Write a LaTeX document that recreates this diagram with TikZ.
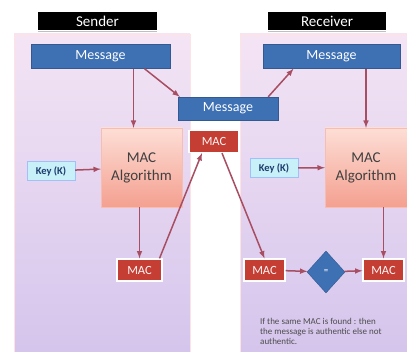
\documentclass[tikz,border=0pt]{standalone}
\usepackage{fontspec}
\setmainfont{Carlito}
\usetikzlibrary{shapes.geometric}
\definecolor{msgblue}{RGB}{62,112,180}
\definecolor{macred}{RGB}{196,62,52}
\definecolor{flowink}{RGB}{168,78,98}
\definecolor{keycyan}{RGB}{200,240,248}
\definecolor{keytext}{RGB}{30,60,110}
\definecolor{algotop}{RGB}{253,222,214}
\definecolor{algobot}{RGB}{244,160,144}
\definecolor{paneltop}{RGB}{244,228,244}
\definecolor{panelbot}{RGB}{212,196,236}

\begin{document}
\begin{tikzpicture}[x=1pt, y=-1pt,
  panel/.style={draw=pink!45!white, top color=paneltop, bottom color=panelbot},
  titlebox/.style={fill=black, text=white, font=\fontsize{15}{16}\selectfont,
    minimum height=18pt, inner sep=0pt},
  msgbox/.style={fill=msgblue, draw=msgblue!80!black, text=white,
    font=\fontsize{14}{15}\selectfont, minimum height=24pt, inner sep=0pt},
  macbox/.style={fill=macred, draw=white, line width=1.2pt, text=white!85!pink,
    font=\fontsize{12.5}{13}\selectfont, minimum height=22pt, inner sep=0pt},
  algobox/.style={top color=algotop, bottom color=algobot, draw=algobot!70!white,
    align=center, font=\fontsize{15}{18}\selectfont, text=black!75,
    minimum width=81pt, minimum height=79pt, inner sep=0pt},
  keybox/.style={fill=keycyan, draw=keycyan!80!blue, text=keytext,
    font=\bfseries\fontsize{10.5}{11}\selectfont, minimum width=48pt,
    minimum height=19pt, inner sep=0pt},
  flow/.style={->, >=latex, flowink, line width=1.5pt}]
  \useasboundingbox (0,0) rectangle (407,352);
  \clip (0,0) rectangle (407,352);
  \fill[white] (0,0) rectangle (407,352);

  % the two sides
  \draw[panel] (14,34) rectangle (190,360);
  \draw[panel] (240,34) rectangle (415,360);
  \node[titlebox, minimum width=119pt] (sendtitle) at (97.5,21) {Sender};
  \node[titlebox, minimum width=118pt] (recvtitle) at (327,21) {Receiver};
  \draw[gray!50, line width=1pt] ([yshift=-1.5pt]sendtitle.south west) -- ([yshift=-1.5pt]sendtitle.south east);
  \draw[gray!50, line width=1pt] ([yshift=-1.5pt]recvtitle.south west) -- ([yshift=-1.5pt]recvtitle.south east);

  % sender
  \node[msgbox, minimum width=139pt] (sendmsg) at (100.5,56.5) {Message};
  \node[algobox] (sendalgo) at (141.5,167.5) {MAC\\Algorithm};
  \node[keybox] (sendkey) at (51,171) {Key (K)};
  \node[macbox, minimum width=45pt] (sendmac) at (139.5,270) {MAC};

  % in between
  \node[msgbox, minimum width=100pt, minimum height=23pt] (midmsg) at (228,108.5) {Message};
  \node[macbox, minimum width=50pt] (midmac) at (214,141.5) {MAC};

  % receiver
  \node[msgbox, minimum width=137pt] (recvmsg) at (331.5,56.5) {Message};
  \node[algobox, minimum width=82pt] (recvalgo) at (366,167.5) {MAC\\Algorithm};
  \node[keybox] (recvkey) at (274,168) {Key (K)};
  \node[macbox, minimum width=41pt] (recvmacl) at (264.5,270) {MAC};
  \node[diamond, fill=msgblue, draw=msgblue!80!black, text=white, inner sep=0pt,
    minimum width=38pt, minimum height=42pt, font=\small] (check) at (326,272) {=};
  \node[macbox, minimum width=41pt] (recvmacr) at (383.5,270) {MAC};
  \node[anchor=north west, align=left, text=black!70, inner sep=0pt,
    font=\fontsize{9}{10}\selectfont] (note) at (260,318)
    {If the same MAC is found : then\\the message is authentic else not\\authentic.};

  \draw[flow] ([xshift=-8pt]sendalgo.north |- sendmsg.south) -- ([xshift=-8pt]sendalgo.north);
  \draw[flow] ([xshift=44pt]sendmsg.south) -- ([xshift=2pt]midmsg.north west);
  \draw[flow] ([xshift=-10pt]midmsg.north east) -- ([xshift=-38pt]recvmsg.south);
  \draw[flow] (recvalgo.north |- recvmsg.south) -- (recvalgo.north);
  \draw[flow] (sendkey) -- (sendalgo);
  \draw[flow] (recvkey) -- (recvalgo);
  \draw[flow] (sendalgo.south -| sendmac) -- (sendmac.north);
  \draw[flow] ([xshift=20pt]sendmac.north) -- ([xshift=-12pt]midmac.south);
  \draw[flow] ([xshift=8pt]midmac.south) -- (recvmacl.north);
  \draw[flow] (recvalgo.south -| recvmacr) -- (recvmacr.north);
  \draw[flow] (recvmacl) -- (check);
  \draw[flow] (check) -- (recvmacr);
\end{tikzpicture}
\end{document}
